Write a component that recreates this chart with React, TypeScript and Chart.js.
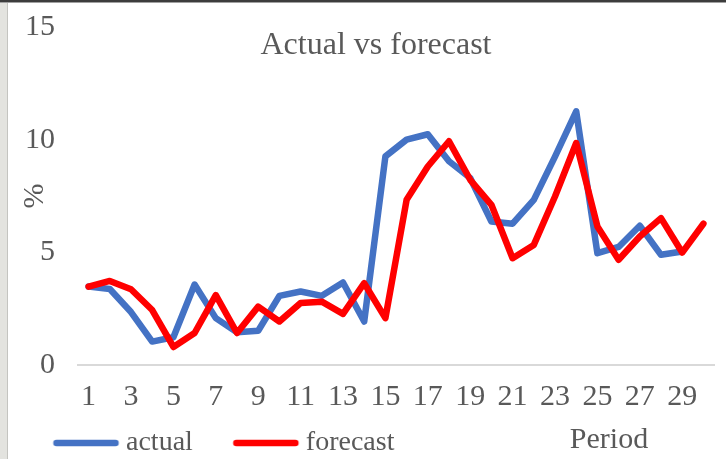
import React, { useEffect, useRef } from "react";
import { Chart, registerables } from "chart.js";

Chart.register(...registerables);

// ---- data ----
const periods = ["1", "2", "3", "4", "5", "6", "7", "8", "9", "10", "11", "12", "13", "14", "15", "16", "17", "18", "19", "20", "21", "22", "23", "24", "25", "26", "27", "28", "29", "30"];
const actual = [3.48, 3.37, 2.35, 1.04, 1.23, 3.57, 2.08, 1.45, 1.52, 3.07, 3.26, 3.07, 3.66, 1.93, 9.26, 10.0, 10.24, 9.04, 8.3, 6.37, 6.27, 7.33, 9.25, 11.26, 4.96, 5.24, 6.18, 4.89, 5.04, null];
const forecast = [3.48, 3.73, 3.36, 2.44, 0.8, 1.42, 3.1, 1.42, 2.59, 1.93, 2.75, 2.81, 2.27, 3.63, 2.08, 7.33, 8.81, 9.93, 8.22, 7.11, 4.74, 5.33, 7.48, 9.85, 6.15, 4.67, 5.7, 6.52, 4.99, 6.27];
const seriesNames = ["actual", "forecast"];
const chartTitle = "Actual vs forecast";
const yAxisTitle = "%";
const xAxisTitle = "Period";
const yMin = 0;
const yMax = 15;
const yStep = 5;

const FONT = "'Liberation Serif', 'Times New Roman', serif";
const TEXT = "#595959";
const BLUE = "#4472C4";
const RED = "#FF0000";
const LINE_W = 6.5;

// legend marker: a short rounded line, placed toward the label text
function makeMarker(color: string): HTMLCanvasElement {
  const c = document.createElement("canvas");
  c.width = 104;
  c.height = 10;
  const g = c.getContext("2d")!;
  g.strokeStyle = color;
  g.lineWidth = LINE_W;
  g.lineCap = "round";
  g.beginPath();
  g.moveTo(39, 5);
  g.lineTo(98, 5);
  g.stroke();
  return c;
}

const overlayText = {
  id: "overlayText",
  afterDraw(chart: any) {
    const { ctx } = chart;
    ctx.save();
    ctx.fillStyle = TEXT;
    ctx.textBaseline = "middle";
    ctx.textAlign = "center";
    ctx.font = `32px ${FONT}`;
    ctx.fillText(chartTitle, 376, 46);
    ctx.font = `30px ${FONT}`;
    ctx.fillText(xAxisTitle, 609, 440);
    ctx.restore();
  },
};

export default function App() {
  const ref = useRef<HTMLCanvasElement | null>(null);

  useEffect(() => {
    if (!ref.current) return;
    const chart = new Chart(ref.current, {
      type: "line",
      data: {
        labels: periods,
        datasets: [
          {
            label: seriesNames[0],
            data: actual,
            borderColor: BLUE,
            backgroundColor: BLUE,
            borderWidth: LINE_W,
            borderCapStyle: "round",
            borderJoinStyle: "round",
            pointRadius: 0,
            pointStyle: makeMarker(BLUE),
            tension: 0,
            order: 1,
          },
          {
            label: seriesNames[1],
            data: forecast,
            borderColor: RED,
            backgroundColor: RED,
            borderWidth: LINE_W,
            borderCapStyle: "round",
            borderJoinStyle: "round",
            pointRadius: 0,
            pointStyle: makeMarker(RED),
            tension: 0,
            order: 0,
          },
        ],
      },
      options: {
        responsive: false,
        maintainAspectRatio: false,
        animation: false,
        layout: { padding: { top: 27, right: 12, left: 13, bottom: -8 } },
        plugins: {
          title: { display: false },
          tooltip: { enabled: false },
          legend: {
            display: true,
            position: "bottom",
            align: "start",
            labels: {
              usePointStyle: true,
              pointStyleWidth: 85,
              padding: 14,
              color: TEXT,
              font: { family: FONT, size: 28 },
              sort: (a: any, b: any) => a.datasetIndex - b.datasetIndex,
            },
          },
        },
        scales: {
          x: {
            type: "category",
            offset: true,
            afterFit: (scale: any) => {
              scale.height = 50;
            },
            grid: { display: false, drawTicks: false },
            border: { display: true, color: "#d9d9d9", width: 2 },
            ticks: {
              autoSkip: false,
              maxRotation: 0,
              padding: 14,
              color: TEXT,
              font: { family: FONT, size: 30 },
              callback: (_v: any, i: number) => (i % 2 === 0 ? periods[i] : ""),
            },
          },
          y: {
            min: yMin,
            max: yMax,
            afterFit: (scale: any) => {
              scale.width = 65;
              scale.paddingTop = 0;
              scale.paddingBottom = 0;
            },
            grid: { display: false, drawTicks: false },
            border: { display: false },
            ticks: {
              stepSize: yStep,
              padding: 23,
              color: TEXT,
              font: { family: FONT, size: 30 },
            },
            title: {
              display: true,
              text: yAxisTitle,
              color: TEXT,
              font: { family: FONT, size: 30 },
              padding: { top: 4, bottom: 0 },
            },
          },
        },
      },
      plugins: [overlayText],
    });
    return () => chart.destroy();
  }, []);

  return (
    <div
      style={{
        position: "fixed",
        left: 0,
        top: 0,
        width: 726,
        height: 459,
        background: "#ffffff",
        overflow: "hidden",
      }}
    >
      <canvas
        ref={ref}
        width={726}
        height={459}
        style={{ position: "absolute", left: 0, top: 0, width: 726, height: 459, display: "block" }}
      />
      <div style={{ position: "absolute", left: 0, top: 0, width: 7, height: 459, background: "#e3e3df" }} />
      <div style={{ position: "absolute", left: 7, top: 0, width: 1, height: 459, background: "#c4c4c0" }} />
      <div style={{ position: "absolute", left: 0, top: 0, width: 726, height: 2, background: "#3c3c3c" }} />
      <div style={{ position: "absolute", left: 0, top: 2, width: 726, height: 1, background: "#a0a0a0" }} />
    </div>
  );
}
